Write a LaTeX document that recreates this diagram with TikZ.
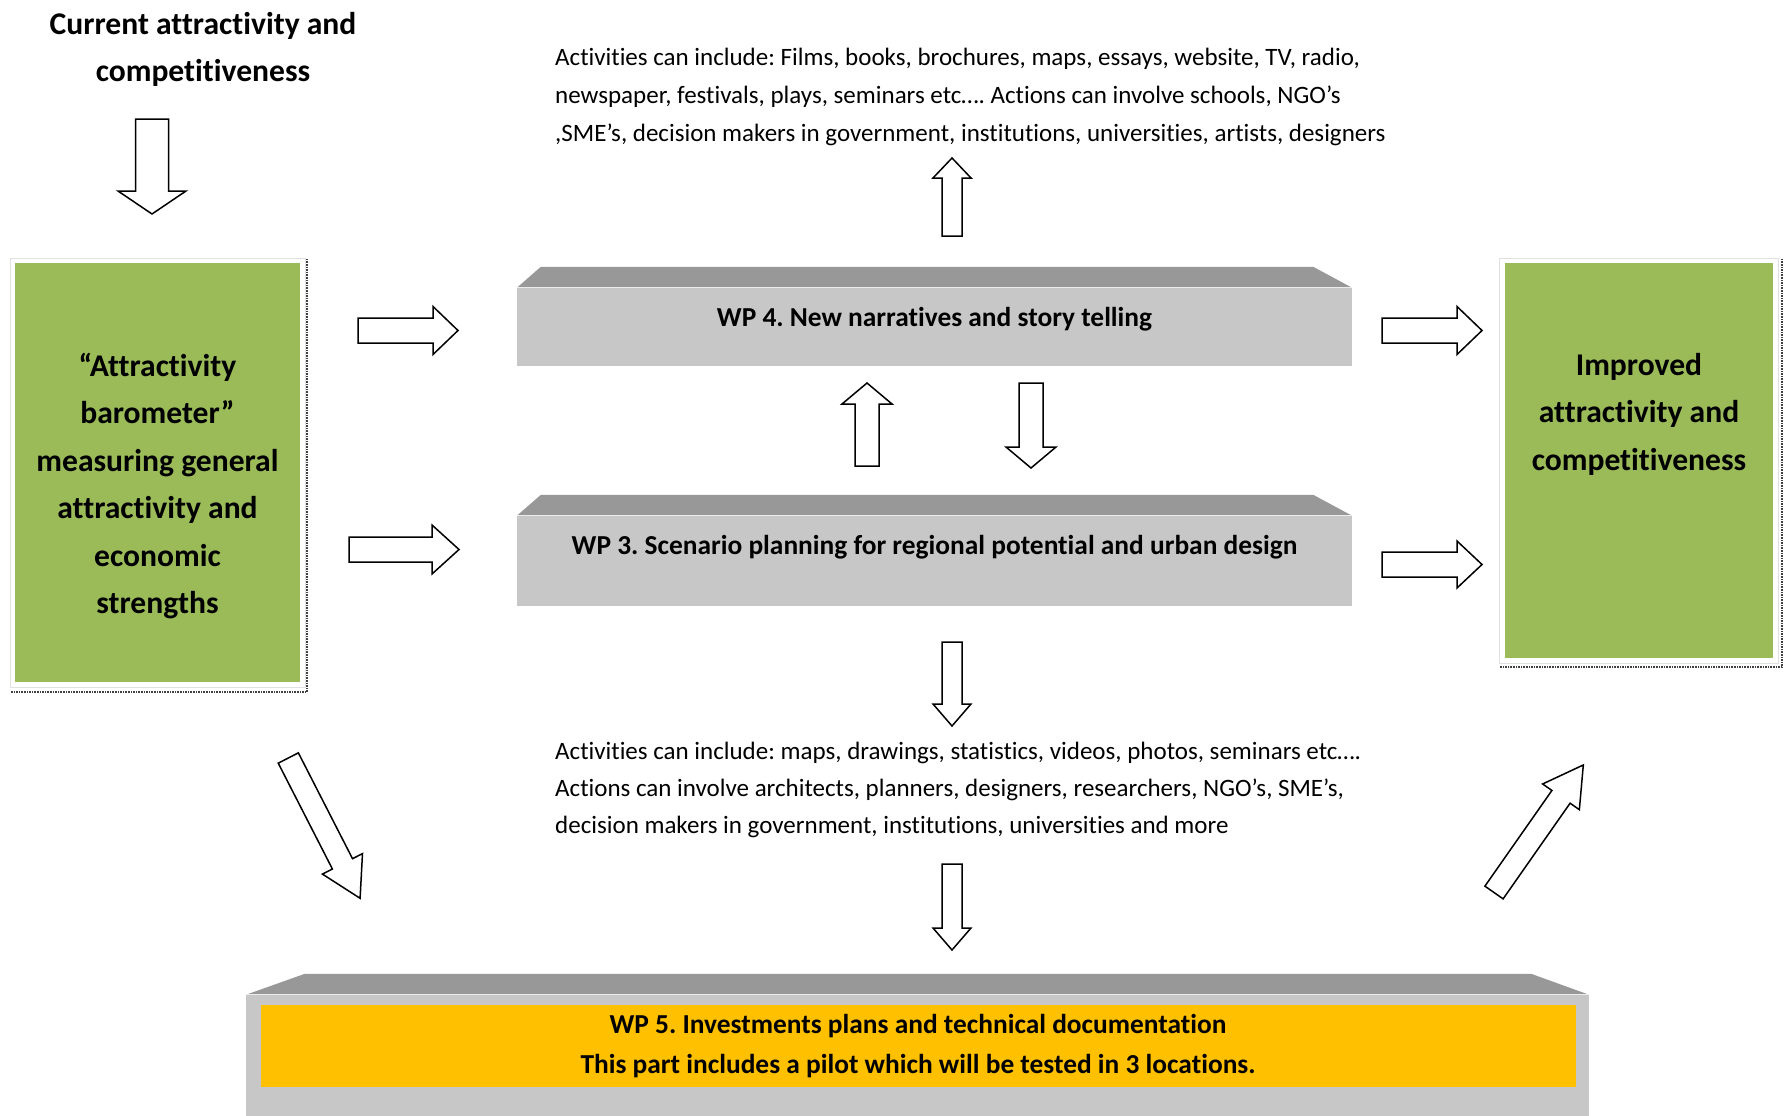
\documentclass[tikz,border=0pt]{standalone}
\usepackage{fontspec}
\setmainfont{Carlito}[Ligatures=NoCommon]
\frenchspacing
\usetikzlibrary{calc}
\definecolor{boxgreen}{RGB}{155,187,89}
\definecolor{wporange}{RGB}{255,192,0}
\definecolor{wpfrontgray}{RGB}{199,199,199}
\definecolor{wptopgray}{RGB}{152,152,152}
\definecolor{framegray}{RGB}{225,225,228}
\newcommand\blockarrow[6]{%
  \begin{scope}[shift={(#1)},rotate=#2]
    \draw[blkarrow] (0,-#4) -- ({#3-#6},-#4) -- ({#3-#6},-#5) -- (#3,0) -- ({#3-#6},#5) -- ({#3-#6},#4) -- (0,#4) -- cycle;
  \end{scope}}
\begin{document}
\frenchspacing
\begin{tikzpicture}[x=1pt,y=-1pt,
  blkarrow/.style={draw=black, fill=white, line width=1.5pt, line join=miter},
  greenbox/.style={rectangle, fill=boxgreen, draw=none, inner sep=0},
  wpfront/.style={rectangle, fill=wpfrontgray, draw=none, inner sep=0},
  wptop/.style={fill=wptopgray},
  frameline/.style={draw=framegray, line width=0.8pt, fill=white},
  shadowline/.style={densely dotted, line width=1.6pt, black!75},
  bigbold/.style={font=\fontsize{31.6}{47.5}\selectfont\bfseries\frenchspacing, align=center, inner sep=0},
  wpbold/.style={font=\fontsize{27.4}{40}\selectfont\bfseries\frenchspacing, align=center, inner sep=0},
  note/.style={font=\fontsize{25}{38}\selectfont\frenchspacing, align=left, anchor=west, inner sep=0}]
\useasboundingbox (0,0) rectangle (1789,1116);

% title
\node[bigbold] (title) at (203,49.5) {Current attractivity and\\competitiveness};

% left green box
\draw[frameline] (10,258) rectangle (305,687);
\node[greenbox, minimum width=285pt, minimum height=419pt] (lbox) at (157.5,472.5) {};
\draw[shadowline] ($(lbox.north east)+(7,-4)$) -- ($(lbox.south east)+(7,10)$) -- ($(lbox.south west)+(-4,10)$);
\node[bigbold] (ltext) at (157.5,486)
  {“Attractivity\\barometer”\\measuring general\\attractivity and\\economic\\strengths};

% right green box
\draw[frameline] (1499,258) rectangle (1778,663);
\node[greenbox, minimum width=268pt, minimum height=395pt] (rbox) at (1639,460.5) {};
\draw[shadowline] ($(rbox.north east)+(9,-4)$) -- ($(rbox.south east)+(9,9)$) -- ($(rbox.south west)+(-5,9)$);
\node[bigbold] (rtext) at (1639,414) {Improved\\attractivity and\\competitiveness};

% WP4
\node[wpfront, minimum width=835pt, minimum height=78pt] (wp4) at (934.5,327) {};
\fill[wptop] (wp4.north west) -- ++(24,-21) -- ($(wp4.north east)+(-39,-21)$) -- (wp4.north east) -- cycle;
\draw[white!85!gray, line width=1pt] (wp4.north west) -- (wp4.north east);
\node[wpbold] (wp4t) at (934.5,319) {WP 4. New narratives and story telling};

% WP3
\node[wpfront, minimum width=835pt, minimum height=90pt] (wp3) at (934.5,561) {};
\fill[wptop] (wp3.north west) -- ++(24,-21) -- ($(wp3.north east)+(-39,-21)$) -- (wp3.north east) -- cycle;
\draw[white!85!gray, line width=1pt] (wp3.north west) -- (wp3.north east);
\node[wpbold] (wp3t) at (934.5,547) {WP 3. Scenario planning for regional potential and urban design};

% WP5
\node[wpfront, minimum width=1343pt, minimum height=121pt] (wp5) at (917.5,1055.5) {};
\fill[wptop] (wp5.north west) -- ++(59,-21) -- ($(wp5.north east)+(-58,-21)$) -- (wp5.north east) -- cycle;
\draw[white!85!gray, line width=1pt] (wp5.north west) -- (wp5.north east);
\node[rectangle, fill=wporange, inner sep=0, minimum width=1315pt, minimum height=82pt] (wp5o) at (918,1046) {};
\node[wpbold] (wp5t) at (918,1046) {WP 5. Investments plans and technical documentation\\This part includes a pilot which will be tested in 3 locations.};

% notes
\node[note] (note4) at (555,96.5) {Activities can include: Films, books, brochures, maps, essays, website, TV, radio,\\newspaper, festivals, plays, seminars etc…. Actions can involve schools, NGO’s\\,SME’s, decision makers in government, institutions, universities, artists, designers};
\node[note, font=\fontsize{25}{37}\selectfont\frenchspacing] (note3) at (555,790) {Activities can include: maps, drawings, statistics, videos, photos, seminars etc….\\Actions can involve architects, planners, designers, researchers, NGO’s, SME’s,\\decision makers in government, institutions, universities and more};

% block arrows: tail point, angle, length, shaft half, head half, head length
\blockarrow{152,119}{-90}{95}{16.5}{34}{23}
\blockarrow{358,330.5}{0}{100}{12.5}{24}{25}
\blockarrow{349,549.5}{0}{110}{12.5}{24.5}{27}
\blockarrow{1382,330.5}{0}{100}{12.5}{24}{25}
\blockarrow{1382,564.5}{0}{100}{12.5}{23.5}{25}
\blockarrow{952,236}{90}{78}{10}{19}{20}
\blockarrow{867,466}{90}{83}{12}{25}{21}
\blockarrow{1031,383}{-90}{85}{12}{25}{21}
\blockarrow{952,642}{-90}{84}{10}{19}{22}
\blockarrow{952,864}{-90}{86}{10}{19}{22}
\blockarrow{288.3,758}{-62.9}{157.6}{11.3}{22.5}{38.7}
\blockarrow{1494,892.5}{55}{155.7}{11.1}{22.4}{38.9}
\end{tikzpicture}
\end{document}
